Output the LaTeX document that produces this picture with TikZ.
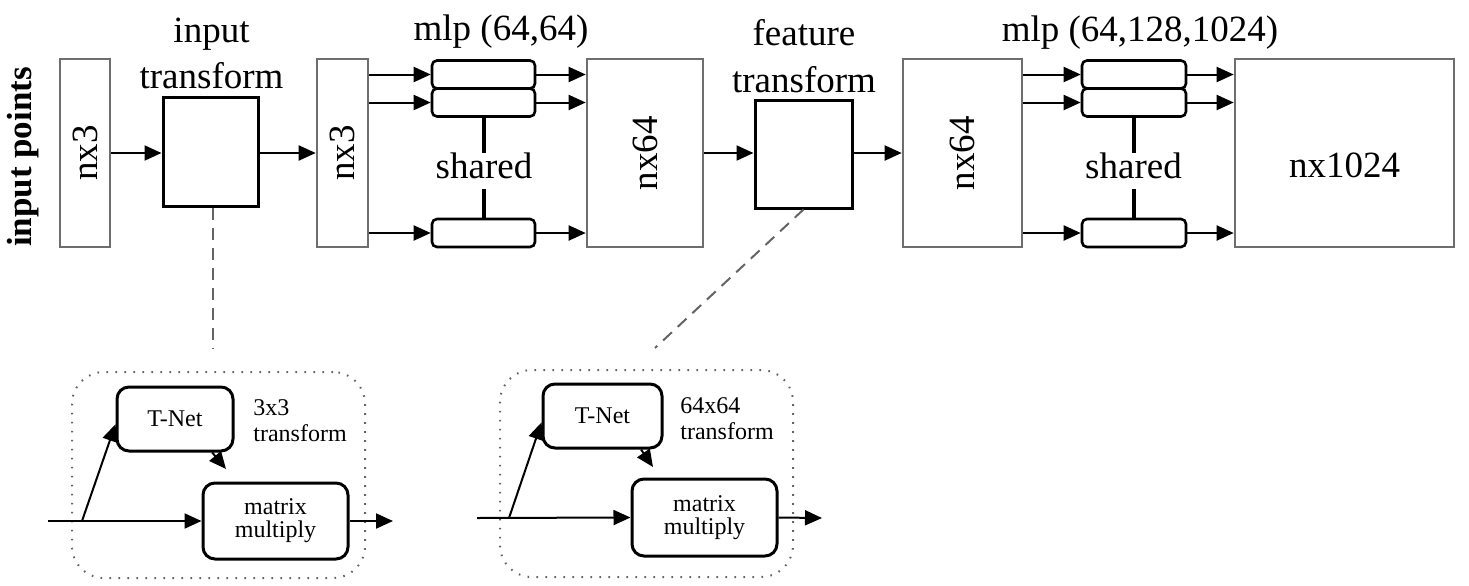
\documentclass[tikz,border=0pt]{standalone}
\usepackage{fontspec}
\setmainfont{Liberation Serif}
\usetikzlibrary{arrows.meta}
\definecolor{bgray}{RGB}{110,110,110}
\definecolor{dgray}{RGB}{100,100,100}
\begin{document}
\begin{tikzpicture}[x=0.5pt,y=-0.5pt,
  big/.style={font=\fontsize{18.5}{23}\selectfont},
  small/.style={font=\fontsize{12}{11.5}\selectfont},
  gbox/.style={draw=bgray,line width=1.3pt,inner sep=0pt,big},
  tbox/.style={draw=black,line width=1.5pt,inner sep=0pt},
  mbox/.style={draw=black,line width=1.3pt,rounded corners=2.5pt,inner sep=0pt,minimum height=14pt},
  ibox/.style={draw=black,line width=1.5pt,rounded corners=6pt,inner sep=0pt,align=center,small},
  conn/.style={line width=1pt,-{Triangle[length=8.5pt,width=7.5pt]}},
  shline/.style={line width=2pt},
  dashln/.style={draw=dgray,line width=1pt,dash pattern=on 6pt off 4pt},
  dotbox/.style={draw=dgray,line width=1pt,dash pattern=on 0.8pt off 3.7pt,rounded corners=16pt,inner sep=0pt},
]
\useasboundingbox (0,0) rectangle (1469,585);

% ---------- top row ----------
\node[rotate=90,font=\bfseries\fontsize{17.5}{20}\selectfont] (ip) at (23.5,157) {input points};

\node[gbox,minimum width=25pt,minimum height=94pt] (b1) at (85,153) {\rotatebox{90}{nx3}};
\node[tbox,minimum width=47.5pt,minimum height=54.5pt] (it) at (210.5,151.5) {};
\node[big,anchor=base] (itl1) at (211.5,42) {input};
\node[big,anchor=base] (itl2) at (211.5,88) {transform};
\node[gbox,minimum width=25.5pt,minimum height=94pt] (b2) at (342.5,153) {\rotatebox{90}{nx3}};

\node[mbox,minimum width=51.5pt] (m1) at (483.5,74.5) {};
\node[mbox,minimum width=51.5pt] (m2) at (483.5,102.5) {};
\node[mbox,minimum width=51.5pt] (m3) at (483.5,233) {};
\node[big,anchor=base] (ml1) at (501,40) {mlp (64,64)};
\node[big,inner sep=0pt] (sh1) at (484,166) {shared};

\node[gbox,minimum width=58pt,minimum height=94pt] (b3) at (645,153) {\rotatebox{90}{nx64}};
\node[tbox,minimum width=48.5pt,minimum height=54pt] (ft) at (803.5,154) {};
\node[big,anchor=base] (ftl1) at (804,45) {feature};
\node[big,anchor=base] (ftl2) at (804,92) {transform};
\node[gbox,minimum width=59.5pt,minimum height=94pt] (b4) at (962.5,153) {\rotatebox{90}{nx64}};

\node[mbox,minimum width=52pt] (m4) at (1134,74.5) {};
\node[mbox,minimum width=52pt] (m5) at (1134,102.5) {};
\node[mbox,minimum width=52pt] (m6) at (1134,233) {};
\node[big,anchor=base] (ml2) at (1140,41) {mlp (64,128,1024)};
\node[big,inner sep=0pt] (sh2) at (1133.5,166) {shared};

\node[gbox,minimum width=109.5pt,minimum height=94pt] (b5) at (1344.5,153) {};
\node[big,anchor=base] (b5t) at (1344.5,177) {nx1024};

% connectors top
\draw[conn] (b1.east) -- (b1.east -| it.west);
\draw[conn] (it.east |- b1.east) -- (b2.west |- b1.east);
\foreach \m in {m1,m2,m3}{
  \draw[conn] (b2.east |- \m.west) -- (\m.west);
  \draw[conn] (\m.east) -- (\m.east -| b3.west);
}
\draw[conn] (b3.east |- b1.east) -- (ft.west |- b1.east);
\draw[conn] (ft.east |- b1.east) -- (b4.west |- b1.east);
\foreach \m in {m4,m5,m6}{
  \draw[conn] (b4.east |- \m.west) -- (\m.west);
  \draw[conn] (\m.east) -- (\m.east -| b5.west);
}
\draw[shline] (sh1.north) -- (sh1.north |- m2.south);
\draw[shline,shorten <=5pt] (sh1.south) -- (sh1.south |- m3.north);
\draw[shline] (sh2.north) -- (sh2.north |- m5.south);
\draw[shline,shorten <=5pt] (sh2.south) -- (sh2.south |- m6.north);

% dashed leaders
\coordinate (d1) at (213,348);
\coordinate (d2) at (655,348);
\draw[dashln] (d1 |- it.south) -- (d1);
\draw[dashln] (ft.south) -- (d2);

% ---------- inset 1 ----------
\node[dotbox,minimum width=146.5pt,minimum height=103pt] (in1) at (218.5,475) {};
\node[ibox,minimum width=58pt,minimum height=32pt] (T1) at (175,419) {T-Net};
\node[ibox,minimum width=72.5pt,minimum height=38pt] (M1) at (275.5,521) {matrix\\multiply};
\node[small,anchor=base west,inner sep=0pt] (tl1) at (253,415) {3x3};
\node[small,anchor=base west,inner sep=0pt] (tl2) at (253,441) {transform};
\coordinate (s1) at (48,521);
\coordinate (p1) at (82,521);
\coordinate (o1) at (393,521);
\coordinate (k1) at (226,469);
\draw[conn] (s1) -- (M1.west);
\draw[conn] (p1) -- (T1.185);
\draw[conn] (T1.318) -- (k1);
\draw[conn] (M1.east) -- (o1);

% ---------- inset 2 ----------
\node[dotbox,minimum width=146.5pt,minimum height=103.5pt] (in2) at (646.5,473.5) {};
\node[ibox,minimum width=59.5pt,minimum height=32pt] (T2) at (602.5,416) {T-Net};
\node[ibox,minimum width=72.5pt,minimum height=38.5pt] (M2) at (704.5,517.5) {matrix\\multiply};
\node[small,anchor=base west,inner sep=0pt] (tl3) at (680,413) {64x64};
\node[small,anchor=base west,inner sep=0pt] (tl4) at (680,439) {transform};
\coordinate (s2) at (477,518);
\coordinate (p2) at (509,518);
\coordinate (o2) at (822,518);
\coordinate (k2) at (653,467);
\draw[conn] (s2) -- (M2.west);
\draw[conn] (p2) -- (T2.186);
\draw[conn] (T2.319) -- (k2);
\draw[conn] (M2.east) -- (o2);
\end{tikzpicture}
\end{document}
